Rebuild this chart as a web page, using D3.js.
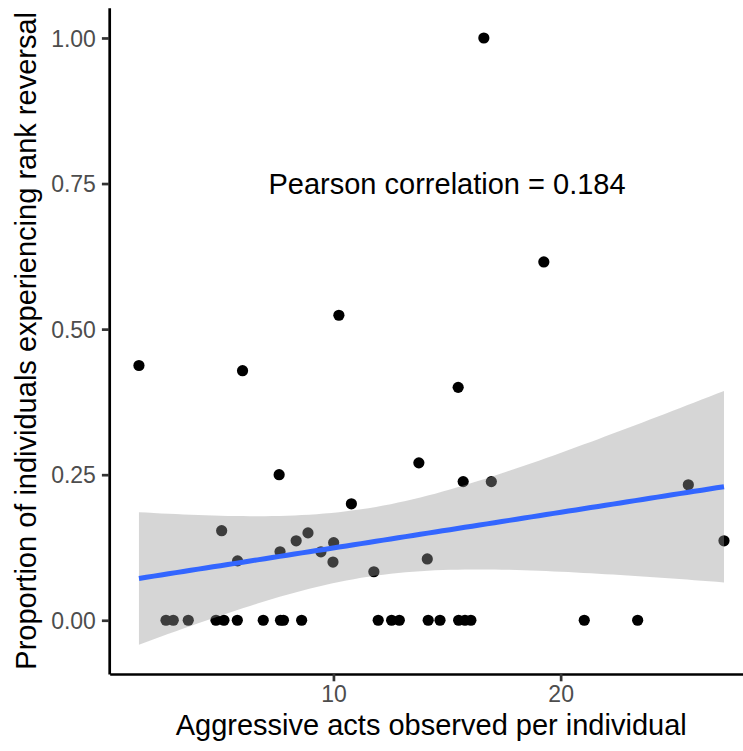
<!DOCTYPE html>
<html>
<head>
<meta charset="utf-8">
<script src="https://cdn.jsdelivr.net/npm/d3@7"></script>
<style>
  html, body { margin: 0; padding: 0; background: #ffffff; }
  svg { display: block; }
</style>
</head>
<body>
<svg id="chart" width="743" height="751"></svg>
<script>
// ---- data ----
const aggressiveActs = [
  1.44, 6.00, 7.61, 10.24, 16.62, 19.26, 15.49, 13.76, 15.71, 16.95,
  25.62, 27.19, 10.79, 11.78, 14.13, 5.08, 5.78, 7.65, 8.36, 8.88,
  9.45, 10.01, 9.98,
  2.63, 2.95, 3.61, 4.83, 5.18, 5.77, 6.91, 7.67, 7.80, 8.60,
  11.97, 12.56, 12.90, 14.17, 14.69, 15.51, 15.79, 16.05, 21.04, 23.39
];
const reversalProportion = [
  0.4375, 0.4286, 0.25, 0.5238, 1.0, 0.6154, 0.40, 0.2703, 0.2381, 0.2381,
  0.2326, 0.1364, 0.20, 0.0833, 0.1053, 0.1538, 0.1020, 0.1176, 0.1364, 0.15,
  0.1176, 0.1333, 0.10,
  0, 0, 0, 0, 0, 0, 0, 0, 0, 0,
  0, 0, 0, 0, 0, 0, 0, 0, 0, 0
];
// fitted linear trend as drawn in the reference (value at the two ends of the x range)
const trendEnds = [0.0718, 0.2294];
// residual standard error of the trend, estimated from the width of the grey band
const trendResidualSE = 0.191;
const xTicks = [10, 20];
const yTicks = [0, 0.25, 0.5, 0.75, 1.0];
const yTickLabels = ["0.00", "0.25", "0.50", "0.75", "1.00"];
const yLimits = [-0.0923, 1.052];
const xTitle = "Aggressive acts observed per individual";
const yTitle = "Proportion of individuals experiencing rank reversal";
const annotation = "Pearson correlation = 0.184";
const annotationAt = [15.0, 0.75];

// ---- trend line with 95% confidence band (lm-style band shape) ----
const n = aggressiveActs.length;
const mx = d3.mean(aggressiveActs);
const sxx = d3.sum(aggressiveActs, v => (v - mx) ** 2);
const [xMin, xMax] = d3.extent(aggressiveActs);
const trendSlope = (trendEnds[1] - trendEnds[0]) / (xMax - xMin);
const tCrit = 2.0195; // t(0.975, df = 41)
const fit = d3.range(80).map(k => {
  const x = xMin + (xMax - xMin) * k / 79;
  const yhat = trendEnds[0] + trendSlope * (x - xMin);
  const se = trendResidualSE * Math.sqrt(1 / n + (x - mx) ** 2 / sxx);
  return { x, y: yhat, lo: yhat - tCrit * se, hi: yhat + tCrit * se };
});

// ---- layout ----
const svg = d3.select("#chart");
const panel = { left: 109.2, top: 7.7, bottom: 674 };
const xPad = (xMax - xMin) * 0.05;
const x = d3.scaleLinear()
  .domain([xMin - xPad, xMax + xPad])
  .range([panel.left + 0.5, panel.left + 0.5 + (xMax - xMin + 2 * xPad) * 22.72]);
const y = d3.scaleLinear()
  .domain(yLimits)
  .range([panel.bottom, panel.top]);

const font = "'Liberation Sans', Arial, Helvetica, sans-serif";

// points
svg.append("g").selectAll("circle")
  .data(aggressiveActs.map((v, i) => [v, reversalProportion[i]]))
  .join("circle")
  .attr("cx", d => x(d[0]))
  .attr("cy", d => y(d[1]))
  .attr("r", 5.6)
  .attr("fill", "#000000");

// ribbon
svg.append("path")
  .datum(fit)
  .attr("d", d3.area().x(d => x(d.x)).y0(d => y(d.lo)).y1(d => y(d.hi)))
  .attr("fill", "#999999")
  .attr("fill-opacity", 0.4);

// fitted line
svg.append("path")
  .datum(fit)
  .attr("d", d3.line().x(d => x(d.x)).y(d => y(d.y)))
  .attr("fill", "none")
  .attr("stroke", "#3366FF")
  .attr("stroke-width", 5);

// annotation
svg.append("text")
  .attr("x", x(annotationAt[0]))
  .attr("y", y(annotationAt[1]) + 10.5)
  .attr("text-anchor", "middle")
  .attr("font-family", font)
  .attr("font-size", 29)
  .attr("fill", "#000000")
  .text(annotation);

// x axis
const xAxis = svg.append("g")
  .attr("transform", `translate(0,${panel.bottom})`)
  .call(d3.axisBottom(x).tickValues(xTicks).tickSize(7.3).tickSizeOuter(0).tickPadding(4.4));
xAxis.select(".domain").attr("stroke", "#000000").attr("stroke-width", 2.7);
xAxis.selectAll(".tick line").attr("stroke", "#333333").attr("stroke-width", 2.7);
xAxis.selectAll(".tick text")
  .attr("font-family", font).attr("font-size", 23).attr("fill", "#4D4D4D");

// y axis
const yAxis = svg.append("g")
  .attr("transform", `translate(${panel.left},0)`)
  .call(d3.axisLeft(y).tickValues(yTicks).tickFormat((d, i) => yTickLabels[i])
    .tickSize(7.3).tickSizeOuter(0).tickPadding(6));
yAxis.select(".domain").attr("stroke", "#000000").attr("stroke-width", 2.7);
yAxis.selectAll(".tick line").attr("stroke", "#333333").attr("stroke-width", 2.7);
yAxis.selectAll(".tick text")
  .attr("font-family", font).attr("font-size", 23).attr("fill", "#4D4D4D")
  .attr("dy", "0.35em");

// axis titles
svg.append("text")
  .attr("x", (panel.left + x.range()[1]) / 2)
  .attr("y", 735)
  .attr("text-anchor", "middle")
  .attr("font-family", font)
  .attr("font-size", 29)
  .attr("fill", "#000000")
  .text(xTitle);

svg.append("text")
  .attr("transform", `translate(36,${(panel.top + panel.bottom) / 2}) rotate(-90)`)
  .attr("text-anchor", "middle")
  .attr("font-family", font)
  .attr("font-size", 29)
  .attr("fill", "#000000")
  .text(yTitle);
</script>
</body>
</html>
